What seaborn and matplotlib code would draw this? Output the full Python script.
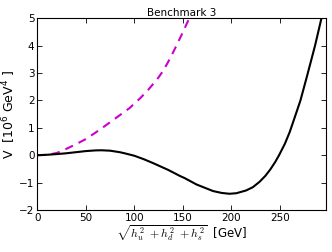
import matplotlib
matplotlib.use("Agg")
import matplotlib.pyplot as plt
import seaborn as sns
import pandas as pd

# Data
x_full = [0, 10, 20, 30, 40, 50, 60, 66, 75, 85, 90, 100, 110, 120, 135, 147, 152,
          164, 181, 190, 198, 205, 215, 222, 229, 235, 240, 245, 249, 255, 260, 265,
          271, 278, 286, 292.6]
v_full = [0.0, 0.015, 0.04, 0.07, 0.11, 0.15, 0.175, 0.18, 0.165, 0.11, 0.07, -0.02,
          -0.15, -0.30, -0.54, -0.76, -0.84, -1.07, -1.31, -1.38, -1.41, -1.39, -1.29,
          -1.17, -0.97, -0.75, -0.52, -0.25, 0.0, 0.42, 0.85, 1.37, 2.0, 2.92, 4.0, 5.0]
x_approx = [0, 10, 20, 27, 34, 41, 49, 59, 71, 83, 95, 106, 114, 123, 130, 137, 143,
            150, 156.5]
v_approx = [0.0, 0.01, 0.08, 0.18, 0.30, 0.42, 0.57, 0.80, 1.10, 1.41, 1.72, 2.08,
            2.38, 2.75, 3.10, 3.55, 3.98, 4.50, 5.0]
xticks = [0, 50, 100, 150, 200, 250]
yticks = [-2, -1, 0, 1, 2, 3, 4, 5]

df_full = pd.DataFrame({"x": x_full, "V": v_full})
df_approx = pd.DataFrame({"x": x_approx, "V": v_approx})

sns.set_style("ticks", {"axes.edgecolor": "black", "text.color": "black",
                        "xtick.color": "black", "ytick.color": "black",
                        "axes.labelcolor": "black"})
plt.rcParams["font.family"] = ["DejaVu Sans"]
plt.rcParams["xtick.direction"] = "in"
plt.rcParams["ytick.direction"] = "in"
plt.rcParams["mathtext.fontset"] = "cm"

fig = plt.figure(figsize=(3.32, 2.52), dpi=100)
ax = fig.add_axes([0.112, 0.167, 0.869, 0.760])

sns.lineplot(data=df_approx, x="x", y="V", ax=ax, color="#cc00cc",
             linestyle=(0, (4, 3)), linewidth=1.5, sort=False)
sns.lineplot(data=df_full, x="x", y="V", ax=ax, color="black",
             linewidth=1.5, sort=False)

ax.set_xlim(0, 297)
ax.set_ylim(-2, 5)
ax.set_xticks(xticks)
ax.set_yticks(yticks)
ax.tick_params(axis="both", which="both", direction="in", top=True, right=True,
               labelsize=7.5, length=3.5, width=0.6, pad=2, colors="black")
for s in ax.spines.values():
    s.set_linewidth(0.8)
    s.set_color("black")
    s.set_visible(True)

ax.set_title("Benchmark 3", fontsize=7.5, pad=2, color="black")
ax.set_ylabel(r"V  [$\mathregular{10^6}$ GeV$\mathregular{^4}$ ]", fontsize=9, color="black")
ax.yaxis.set_label_coords(-0.066, 0.5)
ax.set_xlabel(r"$\sqrt{h_u^2\ +h_d^2\ +h_s^2}$  [GeV]", fontsize=8.5, labelpad=1,
              color="black")

fig.savefig("out.png", dpi=100)
